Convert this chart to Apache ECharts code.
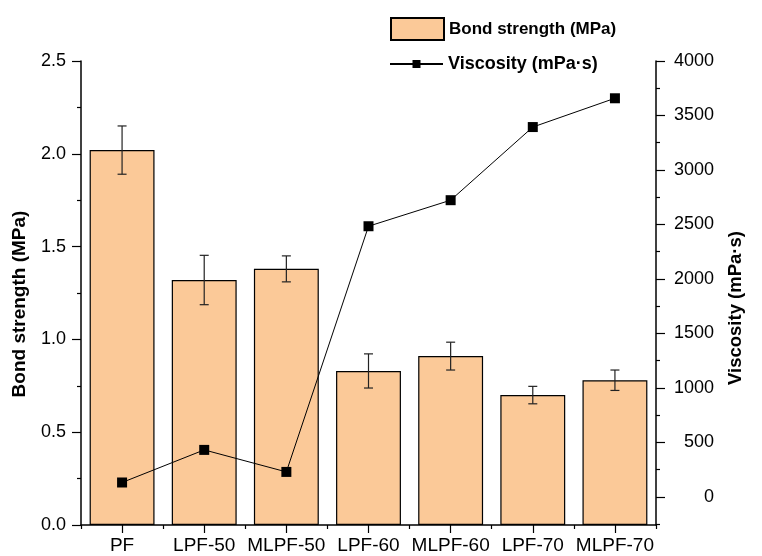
<!DOCTYPE html>
<html>
<head>
<meta charset="utf-8">
<script src="https://cdn.jsdelivr.net/npm/echarts@6/dist/echarts.min.js"></script>
<style>
html,body{margin:0;padding:0;background:#fff;}
#chart{width:762px;height:556px;}
</style>
</head>
<body>
<div id="chart"></div>
<script>
const categories = ['PF', 'LPF-50', 'MLPF-50', 'LPF-60', 'MLPF-60', 'LPF-70', 'MLPF-70'];
const bondStrength = [2.02, 1.32, 1.38, 0.83, 0.91, 0.70, 0.78];
const bondError = [0.13, 0.133, 0.07, 0.092, 0.075, 0.047, 0.055];
const viscosity = [133, 432, 230, 2484, 2723, 3394, 3658];
const rightTicks = [0, 500, 1000, 1500, 2000, 2500, 3000, 3500, 4000];
const rightMinorTicks = [-250, 250, 750, 1250, 1750, 2250, 2750, 3250, 3750];

const FONT = '"Liberation Sans", Arial, sans-serif';
const chart = echarts.init(document.getElementById('chart'), null, {renderer: 'canvas'});

const errData = categories.map((c, i) => [i, bondStrength[i], bondError[i]]);

const option = {
  animation: false,
  backgroundColor: '#fff',
  textStyle: {fontFamily: FONT, color: '#000'},
  grid: {left: 81, right: 106, top: 61, bottom: 31, containLabel: false},
  legend: [
    {
      data: [{name: 'Bond strength (MPa)', icon: 'rect'}],
      left: 385, top: 12, itemWidth: 53, itemHeight: 22, itemGap: 10,
      textStyle: {fontFamily: FONT, fontSize: 17, fontWeight: 'bold', color: '#000'}
    },
    {
      data: [{name: 'Viscosity (mPa·s)'}],
      left: 384, top: 50, itemWidth: 53, itemHeight: 10, itemGap: 7,
      textStyle: {fontFamily: FONT, fontSize: 18, fontWeight: 'bold', color: '#000'}
    }
  ],
  xAxis: [
    {
      type: 'category', data: categories, position: 'bottom',
      axisLine: {show: true, onZero: false, lineStyle: {color: '#000', width: 1.5}},
      axisTick: {show: true, alignWithLabel: true, inside: false, length: 8, lineStyle: {color: '#000', width: 1.2}},
      axisLabel: {fontFamily: FONT, fontSize: 19, color: '#000', margin: 11, interval: 0},
      splitLine: {show: false}
    },
    {
      type: 'category', data: categories, position: 'bottom',
      axisLine: {show: false, onZero: false},
      axisTick: {show: true, length: 4, lineStyle: {color: '#000', width: 1.2}},
      axisLabel: {show: false},
      splitLine: {show: false}
    }
  ],
  yAxis: [
    {
      type: 'value', min: 0, max: 2.5, interval: 0.5, position: 'left',
      name: 'Bond strength (MPa)', nameLocation: 'middle', nameGap: 52, nameRotate: 90,
      nameTextStyle: {fontFamily: FONT, fontSize: 19, fontWeight: 'bold', color: '#000', padding: [0, 22, 0, 0]},
      axisLine: {show: true, onZero: false, lineStyle: {color: '#000', width: 1.5}},
      axisTick: {show: true, length: 9, lineStyle: {color: '#000', width: 1.2}},
      minorTick: {show: true, splitNumber: 2, length: 4, lineStyle: {color: '#000', width: 1.2}},
      axisLabel: {fontFamily: FONT, fontSize: 18, color: '#000', margin: 15, formatter: v => v.toFixed(1)},
      splitLine: {show: false}
    },
    {
      type: 'value', min: -257, max: 4000, position: 'right',
      name: 'Viscosity (mPa·s)', nameLocation: 'middle', nameGap: 70, nameRotate: 90,
      nameTextStyle: {fontFamily: FONT, fontSize: 18.5, fontWeight: 'bold', color: '#000', padding: [0, 30, 0, 0]},
      axisLine: {show: true, onZero: false, lineStyle: {color: '#000', width: 1.5}},
      axisTick: {show: true, length: 9, customValues: rightTicks, lineStyle: {color: '#000', width: 1.2}},
      axisLabel: {fontFamily: FONT, fontSize: 18, color: '#000', margin: 58, align: 'right',
        customValues: rightTicks, formatter: v => String(v)},
      splitLine: {show: false}
    },
    {
      type: 'value', min: -257, max: 4000, position: 'right',
      axisLine: {show: false, onZero: false},
      axisTick: {show: true, length: 4, customValues: rightMinorTicks, lineStyle: {color: '#000', width: 1.2}},
      axisLabel: {show: false, customValues: rightMinorTicks},
      splitLine: {show: false}
    }
  ],
  series: [
    {
      name: 'Bond strength (MPa)', type: 'bar', data: bondStrength,
      xAxisIndex: 0, yAxisIndex: 0, barCategoryGap: '21%',
      itemStyle: {color: '#FBC998', borderColor: '#000', borderWidth: 1.2},
      z: 2
    },
    {
      name: 'errors', type: 'custom', data: errData, xAxisIndex: 0, yAxisIndex: 0, z: 3,
      renderItem: function (params, api) {
        const x = api.value(0), v = api.value(1), e = api.value(2);
        const top = api.coord([x, v + e]);
        const bot = api.coord([x, v - e]);
        const hw = 4.5;
        const st = {stroke: '#222', lineWidth: 1.2};
        return {
          type: 'group',
          children: [
            {type: 'line', shape: {x1: top[0], y1: top[1], x2: bot[0], y2: bot[1]}, style: st},
            {type: 'line', shape: {x1: top[0] - hw, y1: top[1], x2: top[0] + hw, y2: top[1]}, style: st},
            {type: 'line', shape: {x1: bot[0] - hw, y1: bot[1], x2: bot[0] + hw, y2: bot[1]}, style: st}
          ]
        };
      }
    },
    {
      name: 'Viscosity (mPa·s)', type: 'line', data: viscosity,
      xAxisIndex: 0, yAxisIndex: 1, symbol: 'rect', symbolSize: 10,
      lineStyle: {color: '#000', width: 1},
      itemStyle: {color: '#000'},
      z: 4
    }
  ]
};
chart.setOption(option);
</script>
</body>
</html>
